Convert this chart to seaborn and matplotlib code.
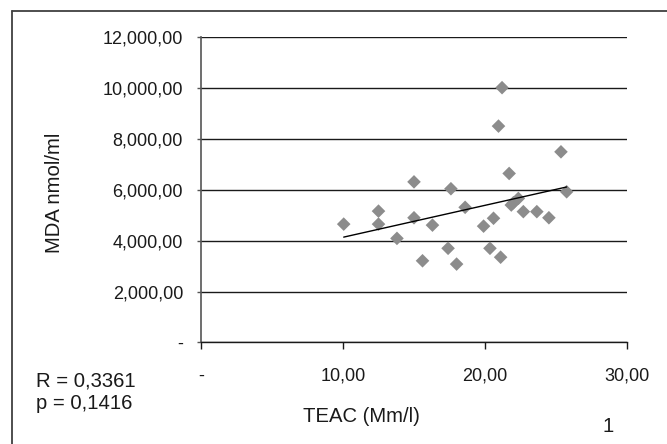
import matplotlib
matplotlib.use("Agg")
import matplotlib.pyplot as plt
from matplotlib.ticker import FuncFormatter, MultipleLocator
from matplotlib.lines import Line2D
import pandas as pd
import seaborn as sns

# TEAC (Mm/l) vs MDA (nmol/ml)
teac = [10.05, 12.5, 12.5, 13.8, 15.0, 15.0, 15.6, 16.3, 17.4, 17.6, 18.0, 18.6,
        19.9, 20.35, 20.6, 20.95, 21.2, 21.1, 21.7, 21.85, 22.0, 22.35, 22.7,
        23.65, 24.5, 25.35, 25.75]
mda = [4650, 5160, 4650, 4090, 6310, 4900, 3210, 4610, 3700, 6040, 3080, 5310,
       4570, 3700, 4880, 8500, 10010, 3350, 6640, 5400, 5490, 5660, 5140,
       5140, 4900, 7490, 5920]

r_text = "R = 0,3361"
p_text = "p = 0,1416"

df = pd.DataFrame({"TEAC": teac, "MDA": mda})

sns.set_theme(style="white")
plt.rcParams['font.family'] = ['Liberation Sans', 'DejaVu Sans']
plt.rcParams['font.size'] = 13

W, H = 667, 444
PT = 0.72  # points per pixel at 100 dpi
INK = "#1a1a1a"
BIG = 14.6

fig = plt.figure(figsize=(W / 100, H / 100), dpi=100)
ax = fig.add_axes([201 / W, 1 - 342.5 / H, 426 / W, 305.5 / H])

sns.scatterplot(data=df, x="TEAC", y="MDA", marker="D", s=48, color="#8c8c8c",
                edgecolor="none", ax=ax, zorder=3)
sns.regplot(data=df, x="TEAC", y="MDA", scatter=False, ci=None, truncate=True,
            line_kws={"color": "black", "lw": 1.0, "zorder": 4}, ax=ax)

ax.set_xlim(0, 30)
ax.set_ylim(0, 12000)
ax.xaxis.set_major_locator(MultipleLocator(10))
ax.yaxis.set_major_locator(MultipleLocator(2000))


def comma_fmt(v, pos):
    if abs(v) < 1e-9:
        return "-"
    s = f"{v:,.2f}"
    return s.replace(".", ",")


ax.xaxis.set_major_formatter(FuncFormatter(comma_fmt))
ax.yaxis.set_major_formatter(FuncFormatter(comma_fmt))

ax.grid(axis="y", color=INK, lw=1.0)
ax.set_axisbelow(True)
for side in ["top", "right"]:
    ax.spines[side].set_visible(False)
ax.spines["left"].set_color("#555555")
ax.spines["left"].set_linewidth(1.2)
ax.spines["bottom"].set_color(INK)
ax.spines["bottom"].set_linewidth(1.0)

ax.tick_params(axis="y", left=True, length=4 * PT, width=1, color="#555555",
               pad=14 * PT, labelsize=13, labelcolor=INK)
ax.tick_params(axis="x", bottom=True, length=7 * PT, width=1, color=INK,
               pad=18 * PT, labelsize=13, labelcolor=INK)

ax.set_xlabel("")
ax.set_ylabel("")

fig.text(55 / W, 1 - 193 / H, "MDA nmol/ml", rotation=90, ha="center", va="center",
         fontsize=BIG, color=INK)
fig.text(303 / W, 1 - 422 / H, "TEAC (Mm/l)", ha="left", va="baseline",
         fontsize=BIG, color=INK)
fig.text(36 / W, 1 - 386 / H, r_text, ha="left", va="baseline", fontsize=BIG,
         color=INK)
fig.text(36 / W, 1 - 409 / H, p_text, ha="left", va="baseline", fontsize=BIG,
         color=INK)
fig.text(608 / W, 1 - 432 / H, "1", ha="center", va="baseline", fontsize=BIG,
         color=INK)

# frame round the figure (left and top edges visible)
fig.add_artist(Line2D([12 / W, 12 / W], [0, 1 - 11 / H], transform=fig.transFigure,
                      color="#404040", lw=1.3))
fig.add_artist(Line2D([12 / W, 1], [1 - 11 / H, 1 - 11 / H], transform=fig.transFigure,
                      color="#404040", lw=1.3))

fig.savefig("out.png", dpi=100)
